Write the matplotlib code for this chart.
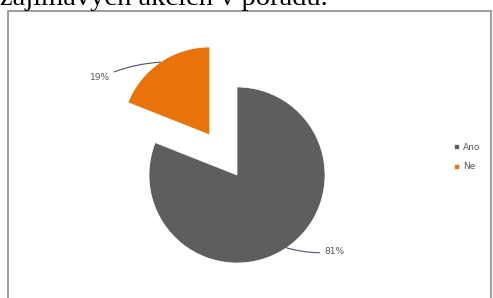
import matplotlib
matplotlib.use("Agg")
import matplotlib.pyplot as plt
from matplotlib.patches import Rectangle
import numpy as np

# data
labels = ["Ano", "Ne"]
shares = [81, 19]
pct_text = ["81%", "19%"]
colors = ["#5e5e5e", "#e8730c"]
heading = "zajímavých akcích v poradu."

W, H = 493, 298
fig = plt.figure(figsize=(W / 100, H / 100), dpi=100)
ax = fig.add_axes([0, 0, 1, 1])

# chart frame (pixel coords, y up)
ax.add_patch(Rectangle((8, -5), 483, H - 11 + 5, fill=False, edgecolor="#8c8c8c", lw=1.2))

center = (237, H - 175)
radius = 88
# explode is in data units here (axes are in pixels)
wedges, _ = ax.pie(shares, colors=colors, startangle=90, counterclock=False,
                   explode=[0, 0.55 * radius], center=center, radius=radius,
                   wedgeprops=dict(edgecolor="white", linewidth=0.5))

# percentage labels with leader lines from the middle of each wedge's arc
label_pos = [(334, H - 252), (100, H - 78)]
for w, txt, pos in zip(wedges, pct_text, label_pos):
    mid = np.deg2rad((w.theta1 + w.theta2) / 2)
    cx, cy = w.center
    xy = (cx + w.r * np.cos(mid), cy + w.r * np.sin(mid))
    ax.annotate(txt, xy=xy, xytext=pos, ha="center", va="center",
                fontsize=6.5, color="#595959",
                arrowprops=dict(arrowstyle="-", color="#4a5568", lw=0.8,
                                shrinkA=1, shrinkB=0,
                                connectionstyle="arc3,rad=-0.1"))

ax.legend(wedges, labels, loc="center left",
          bbox_to_anchor=(446 / W, 1 - 157 / H), frameon=False,
          fontsize=6.5, handlelength=0.5, handleheight=0.5,
          handletextpad=0.5, labelspacing=1.2, labelcolor="#595959")

ax.set_xlim(0, W)
ax.set_ylim(0, H)
ax.set_aspect("equal")
ax.axis("off")

# cut-off heading line from the page above the chart
fig.text(0, 1 - 5 / H, heading, family="Liberation Serif", fontsize=20.5,
         va="baseline", ha="left", color="black")

fig.savefig("out.png", dpi=100)
